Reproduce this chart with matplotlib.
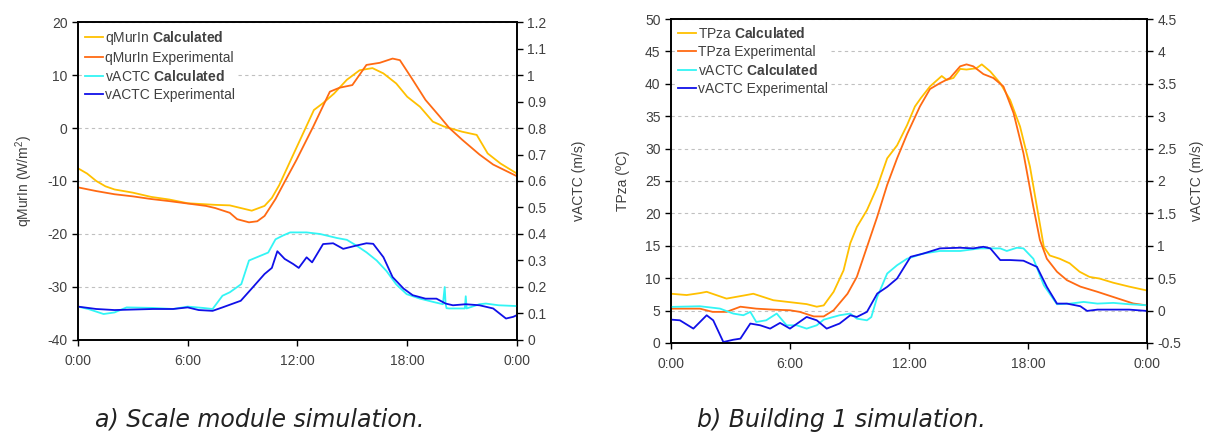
import matplotlib
matplotlib.use("Agg")
import matplotlib.pyplot as plt

plt.rcParams['font.family'] = ['Liberation Sans', 'DejaVu Sans']
plt.rcParams['axes.unicode_minus'] = False
plt.rcParams['mathtext.fontset'] = 'custom'
plt.rcParams['mathtext.rm'] = 'Liberation Sans'
plt.rcParams['mathtext.bf'] = 'Liberation Sans:bold'
plt.rcParams['mathtext.it'] = 'Liberation Sans:italic'

# ---------------- data: a) Scale module ----------------
qcalc_t = [0, 0.5, 1, 1.5, 2, 3, 4, 5, 6, 7, 7.5, 8.3, 8.9, 9.5, 10.2, 10.6, 11, 11.8, 12.9, 13.4, 14, 14.7,
           15.4, 16.1, 16.7, 17.4, 18, 18.7, 19.4, 20, 21, 21.8, 22.4, 23.1, 24]
qcalc = [-7.6, -8.6, -10, -11, -11.6, -12.2, -13, -13.5, -14.2, -14.4, -14.5, -14.6, -15.1, -15.6, -14.7, -13.2,
         -10.8, -4.8, 3.4, 4.7, 6.5, 9.1, 10.9, 11.3, 10.3, 8.4, 5.9, 4.0, 1.2, 0.3, -0.7, -1.3, -4.8, -6.7, -8.6]

qexp_t = [0, 1, 2, 3, 4, 5, 6, 7, 7.5, 8.3, 8.7, 9.35, 9.8, 10.2, 10.8, 11.2, 11.95, 12.86, 13.77, 14.3, 15.0,
          15.77, 16.5, 17.2, 17.6, 18.3, 19.0, 19.77, 20.3, 21.0, 21.95, 22.7, 24]
qexp = [-11.2, -11.9, -12.5, -12.9, -13.4, -13.8, -14.25, -14.7, -15.1, -16, -17.2, -17.8, -17.6, -16.6, -13.4,
        -10.8, -6, 0.25, 6.85, 7.6, 8.1, 11.9, 12.3, 13.1, 12.8, 9.1, 5.3, 2.2, 0.0, -2.2, -5.0, -6.9, -9.1]

vcalc_a_t = [0, 0.56, 1.4, 2, 2.66, 4.1, 5.2, 6, 6.84, 7.36, 7.9, 8.3, 8.93, 9.35, 9.98, 10.4, 10.8, 11.2, 11.6,
             12.5, 13.24, 14.15, 14.7, 15.23, 15.77, 16.33, 16.87, 17.4, 17.97, 18.7, 19.4, 19.95, 20.05, 20.1,
             20.15, 20.3, 21.15, 21.2, 21.25, 21.95, 22.3, 23.0, 24]
vcalc_a = [0.126, 0.117, 0.098, 0.104, 0.123, 0.121, 0.117, 0.126, 0.121, 0.117, 0.167, 0.18, 0.211, 0.3, 0.318,
           0.33, 0.38, 0.394, 0.406, 0.406, 0.4, 0.385, 0.378, 0.356, 0.331, 0.3, 0.26, 0.21, 0.173, 0.156, 0.144,
           0.135, 0.2, 0.135, 0.12, 0.119, 0.119, 0.165, 0.119, 0.135, 0.1375, 0.131, 0.128]

vexp_a_t = [0, 1, 2, 4.1, 5.2, 6, 6.6, 7.36, 7.9, 8.5, 8.9, 9.56, 10.2, 10.6, 10.9, 11.3, 11.76, 12.07, 12.5, 12.8,
            13.4, 13.95, 14.5, 15.2, 15.77, 16.14, 16.7, 17.2, 17.8, 18.3, 19.0, 19.6, 20.1, 20.5, 21.2, 21.95,
            22.7, 23.4, 23.8, 24]
vexp_a = [0.126, 0.117, 0.113, 0.117, 0.117, 0.123, 0.113, 0.11, 0.123, 0.138, 0.148, 0.199, 0.249, 0.272, 0.335,
          0.306, 0.287, 0.272, 0.312, 0.293, 0.362, 0.365, 0.344, 0.356, 0.365, 0.363, 0.3125, 0.2375, 0.194, 0.169,
          0.156, 0.156, 0.1375, 0.131, 0.135, 0.131, 0.119, 0.081, 0.0875, 0.094]

# ---------------- data: b) Building 1 ----------------
tcalc_t = [0, 0.79, 1.46, 1.8, 2.8, 3.8, 4.15, 5.16, 6.0, 6.84, 7.35, 7.7, 8.2, 8.7, 9.04, 9.37, 9.88, 10.4, 10.9,
           11.4, 11.9, 12.3, 12.6, 13.06, 13.65, 13.9, 14.24, 14.58, 14.9, 15.4, 15.67, 16.1, 16.6, 17.1, 17.6,
           18.1, 18.45, 18.8, 19.1, 19.6, 20.1, 20.6, 21.1, 21.6, 22.3, 23.1, 24]
tcalc = [7.6, 7.4, 7.7, 7.9, 6.85, 7.4, 7.6, 6.6, 6.3, 6.0, 5.6, 5.8, 7.9, 11.2, 15.4, 17.9, 20.5, 24.1, 28.5, 30.5,
         33.6, 36.5, 37.8, 39.6, 41.2, 40.6, 40.9, 42.3, 42.2, 42.4, 43, 41.9, 40.1, 37.5, 33.4, 27.2, 21, 14.8,
         13.5, 13.0, 12.3, 11, 10.2, 9.95, 9.3, 8.7, 8.1]

texp_t = [0, 1.46, 2.1, 2.8, 3.5, 4.3, 5.16, 6.0, 6.5, 7.2, 7.7, 8.2, 8.9, 9.37, 9.88, 10.4, 10.9, 11.4, 11.9,
          12.55, 13.06, 13.56, 14.07, 14.58, 14.9, 15.24, 15.75, 16.25, 16.76, 17.27, 17.77, 18.27, 18.6, 18.95,
          19.46, 19.96, 20.64, 21.5, 22.3, 23.3, 24]
texp = [5.3, 5.3, 4.8, 4.8, 5.6, 5.3, 5.15, 5.05, 4.8, 4.1, 4.1, 5.05, 7.6, 10.2, 14.8, 19.5, 24.4, 28.5, 32.2,
        36.5, 39.2, 40.1, 40.9, 42.7, 43, 42.7, 41.5, 40.9, 39.6, 35.5, 29.3, 21, 15.9, 13, 11, 9.7, 8.7, 7.9,
        7.1, 6.1, 5.8]

vcalc_b_t = [0, 1.46, 2.47, 3.14, 3.65, 4.0, 4.3, 4.8, 5.33, 5.83, 6.34, 6.84, 7.35, 7.7, 8.5, 9.04, 9.37, 9.88,
             10.1, 10.4, 10.9, 11.4, 11.9, 12.72, 13.56, 14.58, 15.58, 16.6, 16.93, 17.44, 17.77, 18.27, 18.8,
             19.46, 20.13, 20.8, 21.5, 22.3, 23.1, 24]
vcalc_b = [0.057, 0.067, 0.031, -0.046, -0.072, -0.02, -0.175, -0.15, -0.046, -0.227, -0.227, -0.278, -0.227,
           -0.14, -0.072, -0.046, -0.124, -0.15, -0.1, 0.211, 0.572, 0.7, 0.8, 0.88, 0.92, 0.92, 0.96, 0.96, 0.92,
           0.97, 0.96, 0.8, 0.39, 0.098, 0.108, 0.134, 0.108, 0.119, 0.098, 0.082]

vexp_b_t = [0, 0.45, 1.13, 1.8, 2.13, 2.64, 3.14, 3.5, 4.0, 4.5, 5.0, 5.5, 6.0, 6.84, 7.35, 7.85, 8.5, 9.04, 9.37,
            9.88, 10.4, 10.9, 11.4, 12.08, 12.72, 13.56, 14.58, 15.24, 15.75, 16.1, 16.6, 17.1, 17.77, 18.45,
            18.95, 19.46, 19.96, 20.64, 20.98, 21.5, 23.1, 24]
vexp_b = [-0.139, -0.15, -0.278, -0.072, -0.15, -0.485, -0.45, -0.433, -0.2, -0.227, -0.278, -0.19, -0.278, -0.098,
          -0.15, -0.278, -0.2, -0.072, -0.098, -0.02, 0.263, 0.366, 0.495, 0.83, 0.88, 0.96, 0.97, 0.96, 0.985,
          0.96, 0.78, 0.78, 0.77, 0.675, 0.366, 0.108, 0.108, 0.067, -0.005, 0.015, 0.015, -0.005]

xticks = [0, 6, 12, 18, 24]
xlabels = ["0:00", "6:00", "12:00", "18:00", "0:00"]

C_YEL = "#FFC000"
C_ORA = "#FF6A13"
C_CYA = "#33F5F5"
C_BLU = "#1010E8"
TXT = "#404040"
LW = 1.3

fig = plt.figure(figsize=(12.07, 4.34), dpi=100)


def style(ax, ax2):
    for a in (ax, ax2):
        for s in a.spines.values():
            s.set_color("black")
            s.set_linewidth(1.2)
        a.tick_params(direction="out", length=4, width=1, color="black", labelcolor=TXT, labelsize=10)
    ax.tick_params(axis="x", pad=6)
    ax.set_xlim(0, 24)
    ax.set_xticks(xticks)
    ax.set_xticklabels(xlabels)
    ax.yaxis.grid(True, linestyle=(0, (3, 3)), color="#c0c0c0", linewidth=0.8)
    ax.set_axisbelow(True)


def fmt(v):
    s = ("%.1f" % v).rstrip("0").rstrip(".")
    return "0" if s in ("-0", "") else s


def make_legend(axis, handles, labels):
    lg = axis.legend(handles, labels, loc="upper left", bbox_to_anchor=(0.0, 1.0), frameon=True, fontsize=10,
                     handlelength=1.3, handletextpad=0.15, labelspacing=0.28, borderaxespad=0.3,
                     borderpad=0.2, labelcolor=TXT)
    lg.get_frame().set_facecolor("white")
    lg.get_frame().set_edgecolor("none")
    lg.get_frame().set_alpha(1)
    return lg


# ---------- a) ----------
ax = fig.add_axes([0.0646, 0.2166, 0.3637, 0.7327])
ax2 = ax.twinx()
l1, = ax.plot(qcalc_t, qcalc, color=C_YEL, lw=LW)
l2, = ax.plot(qexp_t, qexp, color=C_ORA, lw=LW)
l3, = ax2.plot(vcalc_a_t, vcalc_a, color=C_CYA, lw=LW)
l4, = ax2.plot(vexp_a_t, vexp_a, color=C_BLU, lw=LW)
ax.set_ylim(-40, 20)
ax.set_yticks(range(-40, 21, 10))
ax2.set_ylim(0, 1.2)
yt2 = [i / 10 for i in range(0, 13)]
ax2.set_yticks(yt2)
ax2.set_yticklabels([fmt(v) for v in yt2])
style(ax, ax2)
ax.set_ylabel("qMurIn (W/m$^2$)", color=TXT, fontsize=10, labelpad=9)
ax2.set_ylabel("vACTC (m/s)", color=TXT, fontsize=10, labelpad=18)
make_legend(ax2, [l1, l2, l3, l4],
            [r"qMurIn $\mathbf{Calculated}$", "qMurIn Experimental",
             r"vACTC $\mathbf{Calculated}$", "vACTC Experimental"])

# ---------- b) ----------
bx = fig.add_axes([0.5559, 0.2097, 0.3944, 0.7465])
bx2 = bx.twinx()
m1, = bx.plot(tcalc_t, tcalc, color=C_YEL, lw=LW)
m2, = bx.plot(texp_t, texp, color=C_ORA, lw=LW)
m3, = bx2.plot(vcalc_b_t, vcalc_b, color=C_CYA, lw=LW)
m4, = bx2.plot(vexp_b_t, vexp_b, color=C_BLU, lw=LW)
bx.set_ylim(0, 50)
bx.set_yticks(range(0, 51, 5))
bx2.set_ylim(-0.5, 4.5)
yt3 = [i / 2 for i in range(-1, 10)]
bx2.set_yticks(yt3)
bx2.set_yticklabels([fmt(v) for v in yt3])
style(bx, bx2)
bx.set_ylabel("TPza (ºC)", color=TXT, fontsize=10, labelpad=11)
bx2.set_ylabel("vACTC (m/s)", color=TXT, fontsize=10, labelpad=6)
make_legend(bx2, [m1, m2, m3, m4],
            [r"TPza $\mathbf{Calculated}$", "TPza Experimental",
             r"vACTC $\mathbf{Calculated}$", "vACTC Experimental"])

# captions
fig.text(260 / 1207, 1 - 420 / 434, "a) Scale module simulation.", family="DejaVu Sans", style="italic",
         fontsize=17, color="#222222", ha="center", va="center")
fig.text(841 / 1207, 1 - 420 / 434, "b) Building 1 simulation.", family="DejaVu Sans", style="italic",
         fontsize=17, color="#222222", ha="center", va="center")

fig.savefig("out.png", dpi=100)
